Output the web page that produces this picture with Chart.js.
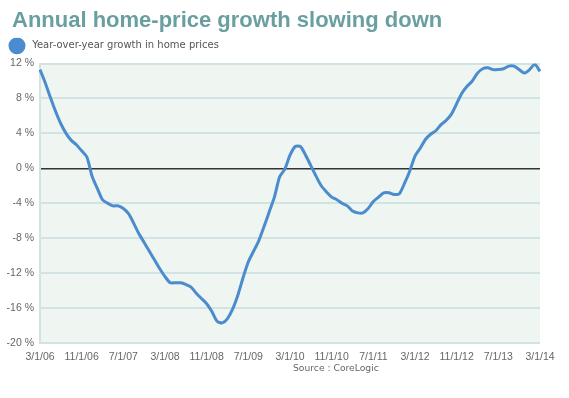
<!DOCTYPE html>
<html>
<head>
<meta charset="utf-8">
<script src="https://cdn.jsdelivr.net/npm/chart.js@4.4.1/dist/chart.umd.min.js"></script>
<style>
    html, body { margin: 0; padding: 0; background: #fff; }
    #wrap { position: relative; width: 569px; height: 398px; }
</style>
</head>
<body>
<div id="wrap"><canvas id="chart"></canvas></div>
<script>
// monthly year-over-year growth, 3/1/06 .. 3/1/14
const startYear = 2006;
const startMonth = 3;
const growth = [
    11.3, 9.8, 8.1, 6.5, 5.1, 4.0, 3.2, 2.7, 2.0, 1.3,
    -0.9, -2.3, -3.6, -4.0, -4.3, -4.3, -4.6, -5.2, -6.3, -7.5,
    -8.5, -9.5, -10.5, -11.5, -12.4, -13.1, -13.1, -13.1, -13.3, -13.6,
    -14.3, -14.9, -15.5, -16.4, -17.5, -17.7, -17.2, -16.1, -14.5, -12.5,
    -10.7, -9.5, -8.3, -6.7, -5.0, -3.3, -1.0, -0.1, 1.5, 2.5,
    2.5, 1.5, 0.3, -0.9, -2.0, -2.7, -3.3, -3.6, -4.0, -4.3,
    -4.9, -5.1, -5.1, -4.6, -3.8, -3.3, -2.8, -2.8, -3.0, -2.9,
    -1.7, -0.3, 1.4, 2.3, 3.3, 3.9, 4.3, 5.0, 5.5, 6.2,
    7.4, 8.6, 9.4, 10.0, 10.9, 11.4, 11.5, 11.3, 11.3, 11.4,
    11.7, 11.7, 11.3, 10.9, 11.3, 11.9, 11.1
];
const tickLabels = ['3/1/06', '11/1/06', '7/1/07', '3/1/08', '11/1/08', '7/1/09', '3/1/10',
    '11/1/10', '7/1/11', '3/1/12', '11/1/12', '7/1/13', '3/1/14'];
const yTicks = [12, 8, 4, 0, -4, -8, -12, -16, -20];

// one category per month
const months = growth.map((v, i) => {
    const m = (startMonth - 1 + i) % 12 + 1;
    const y = startYear + Math.floor((startMonth - 1 + i) / 12);
    return m + '/1/' + String(y % 100).padStart(2, '0');
});

const plotBackground = {
    id: 'plotBackground',
    beforeDraw(chart) {
        const { ctx, chartArea: a } = chart;
        ctx.save();
        ctx.fillStyle = '#eff5f1';
        ctx.fillRect(a.left, a.top, a.right - a.left, a.bottom - a.top);
        ctx.restore();
    }
};

// nudge title and legend in from the left edge (y labels need the full margin)
const headerShift = {
    id: 'headerShift',
    afterLayout(chart) {
        if (chart.titleBlock) chart.titleBlock.left = 12;
        if (chart.legend) {
            chart.legend.left = 7;
            chart.legend.top -= 2.75;
        }
    }
};

const sourceNote = {
    id: 'sourceNote',
    afterDraw(chart) {
        const ctx = chart.ctx;
        ctx.save();
        ctx.font = '9.2px "DejaVu Sans", Verdana, sans-serif';
        ctx.fillStyle = '#666';
        ctx.textAlign = 'left';
        ctx.textBaseline = 'middle';
        ctx.fillText('Source : CoreLogic', 293, 369);
        ctx.restore();
    }
};

new Chart(document.getElementById('chart'), {
    type: 'line',
    data: {
        labels: months,
        datasets: [{
            label: ' Year-over-year growth in home prices',
            data: growth,
            borderColor: '#4a8ccd',
            backgroundColor: '#4a8ccd',
            borderWidth: 3,
            pointRadius: 0,
            tension: 0.25
        }]
    },
    options: {
        responsive: true,
        maintainAspectRatio: false,
        animation: false,
        layout: { padding: { left: 0, right: 29, top: 0, bottom: 0 } },
        plugins: {
            title: {
                display: true,
                text: 'Annual home-price growth slowing down',
                align: 'start',
                color: '#6a9fa0',
                font: { family: '"Liberation Sans", Arial, sans-serif', size: 22, weight: 'bold' },
                padding: { top: 7.5, bottom: 6.6 }
            },
            legend: {
                display: true,
                align: 'start',
                labels: {
                    usePointStyle: true,
                    pointStyle: 'circle',
                    pointStyleWidth: 14,
                    boxHeight: 10,
                    padding: 3,
                    color: '#555',
                    font: { family: '"DejaVu Sans", Verdana, sans-serif', size: 10 }
                }
            },
            tooltip: { enabled: false }
        },
        scales: {
            x: {
                offset: false,
                grid: { display: false, drawTicks: false },
                border: { display: false },
                afterFit: (scale) => { scale.height = 55; },
                ticks: {
                    autoSkip: false,
                    maxRotation: 0,
                    padding: 8,
                    color: '#666',
                    font: { family: '"Liberation Sans", Arial, sans-serif', size: 10.5 },
                    callback: function (value, index) {
                        return index % 8 === 0 ? tickLabels[index / 8] : null;
                    }
                }
            },
            y: {
                min: -20,
                max: 12,
                afterFit: (scale) => { scale.width = 40; },
                afterBuildTicks: (scale) => { scale.ticks = yTicks.map(v => ({ value: v })); },
                border: { display: true, color: '#d2e3e3', width: 2 },
                grid: {
                    drawTicks: false,
                    color: (c) => c.tick && c.tick.value === 0 ? '#333' : '#d2e3e3',
                    lineWidth: (c) => c.tick && c.tick.value === 0 ? 1.5 : 2
                },
                ticks: {
                    padding: 6,
                    color: '#666',
                    font: { family: '"Liberation Sans", Arial, sans-serif', size: 10.5 },
                    callback: (v) => v + ' %'
                }
            }
        }
    },
    plugins: [plotBackground, headerShift, sourceNote]
});
</script>
</body>
</html>
